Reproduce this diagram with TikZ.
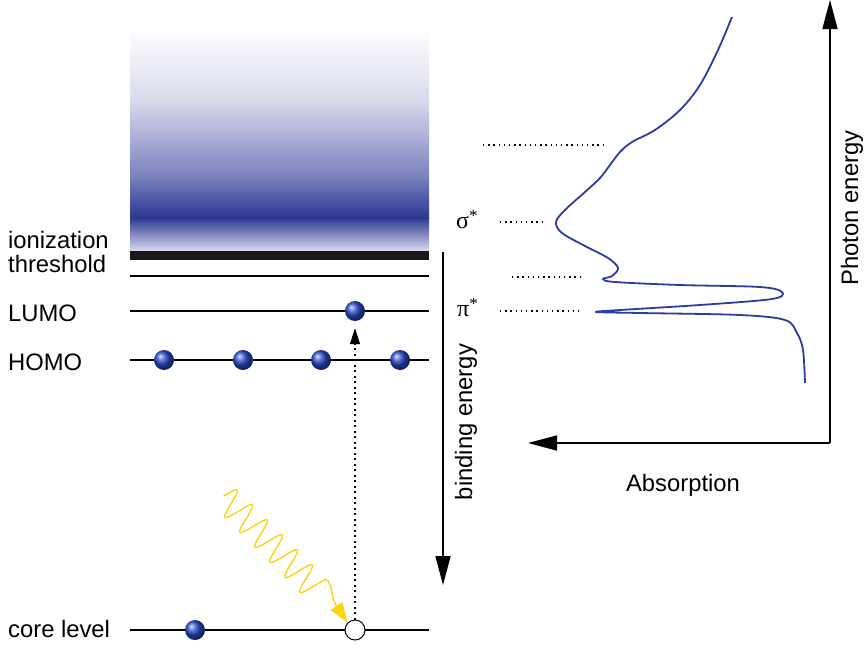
\documentclass[tikz,border=0pt]{standalone}
\usepackage{fontspec}
\setmainfont{Liberation Sans}
\newfontfamily\grk{Liberation Serif}
\usetikzlibrary{arrows.meta,shadings}
\definecolor{eblue}{RGB}{40,75,205}
\definecolor{cblue}{RGB}{45,60,160}
\definecolor{gA}{RGB}{217,219,236}
\definecolor{gB}{RGB}{125,132,192}
\definecolor{gC}{RGB}{45,55,145}
\definecolor{gD}{RGB}{212,214,236}
\definecolor{phy}{RGB}{252,212,20}
\begin{document}
\begin{tikzpicture}[x=1pt,y=-1pt,
  lbl/.style={font=\fontsize{23.8}{27}\selectfont, inner sep=0pt},
  greek/.style={font=\grk\fontsize{24}{27}\selectfont, inner sep=0pt, anchor=base west},
  level/.style={line width=1.3pt},
  electron/.style={circle, inner sep=0pt, minimum size=20pt, ball color=eblue, draw=none},
  holec/.style={circle, inner sep=0pt, minimum size=20pt, draw, line width=1pt, fill=white},
  axis/.style={line width=1.6pt, -{Triangle[length=29pt,width=15pt]}},
  dots/.style={line width=1.1pt, dash pattern=on 1.3pt off 3.9pt},
  phot/.style={phy, line width=1.4pt}]
\useasboundingbox (0,0) rectangle (864,645);

% continuum gradient
\shade[top color=white, bottom color=gA] (130,27) rectangle (429,100);
\shade[top color=gA, bottom color=gB] (130,99.5) rectangle (429,175);
\shade[top color=gB, bottom color=gC] (130,174.5) rectangle (429,218);
\shade[top color=gC, bottom color=gD] (130,217.5) rectangle (429,250);
\fill[black!90] (130,251) rectangle (429,260);

% levels
\draw[level] (130,276) -- (429,276);
\draw[level] (130,311) -- (429,311);
\draw[level] (130,360) -- (429,360);
\draw[level] (130,630) -- (429,630);

% labels
\node[lbl, anchor=west] (ion) at (8,240) {ionization};
\node[lbl, anchor=west] (thr) at (8,264) {threshold};
\node[lbl, anchor=west] (lumo) at (8,313) {LUMO};
\node[lbl, anchor=west] (homo) at (8,362) {HOMO};
\node[lbl, anchor=west] (core) at (8,629) {core level};

% electrons
\node[electron] (h1) at (164,360) {};
\node[electron] (h2) at (243,360) {};
\node[electron] (h3) at (321,360) {};
\node[electron] (h4) at (400,360) {};
\node[electron] (le) at (355,311) {};
\node[electron] (ce) at (195,630) {};
\node[holec] (hole) at (355,630) {};

% excitation
\draw[line width=1.3pt, dash pattern=on 2pt off 3.5pt, shorten >=7pt,
  -{Triangle[length=16pt,width=10pt]}] (hole.north) -- (le.south);

% photon
\coordinate (ph1) at (327.25,580);
\draw[phot, line join=round] plot[domain=0:1, samples=220, smooth]
  ({223.6 + 93.75*\x + 9.9*sin(2250*\x)}, {496.1 + 93.75*\x - 9.9*sin(2250*\x)});
\draw[phot, -{Triangle[length=20pt,width=14pt]}] (ph1) .. controls (333,586) and (331,598) .. (hole.north west);

% binding energy
\coordinate (bTop) at (443,252);
\coordinate (bBot) at (443,585);
\draw[axis] (bTop) -- (bBot);
\node[lbl, rotate=90] (bind) at (466,422) {binding energy};

% spectrum axes
\coordinate (orig) at (830,443);
\coordinate (yTop) at (830,0);
\coordinate (xLeft) at (528,443);
\draw[axis] (orig) -- (yTop);
\draw[axis] (orig) -- (xLeft);
\node[lbl, rotate=90] (phe) at (852,208) {Photon energy};
\node[lbl] (abs) at (683,485) {Absorption};

% resonance labels
\node[greek] (sig) at (456,228) {σ\raisebox{7pt}{\fontsize{17}{17}\selectfont *}};
\node[greek] (pis) at (457,316) {π\raisebox{7pt}{\fontsize{17}{17}\selectfont *}};
\draw[dots] (483,145) -- (604,145);
\draw[dots] (500,222) -- (546,222);
\draw[dots] (512,277) -- (580,277);
\draw[dots] (500,311) -- (580,311);

% spectrum
\draw[cblue, line width=1.8pt, line join=round] plot[smooth, tension=0.55] coordinates {
 (732,17) (718,50) (700,85) (680,110) (655,130) (632,142) (620,152) (610,165)
 (600,178) (585,192) (565,210) (556,222) (562,233) (585,246) (608,258) (618,268)
 (612,276) (603,279) (615,282) (680,285) (760,287) (782,292) (772,299) (700,305)
 (620,310) (596,312) (640,313) (740,315) (785,320) (797,333) (803,350) (805,383)};
\end{tikzpicture}
\end{document}
